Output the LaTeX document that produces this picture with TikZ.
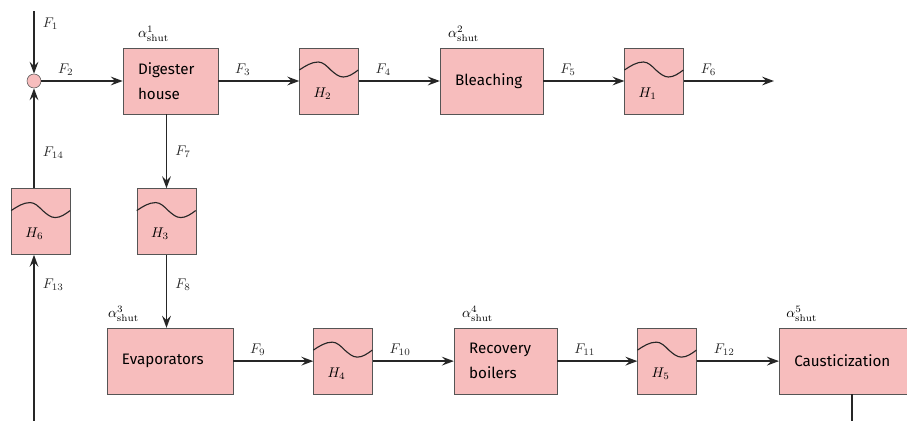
\documentclass[tikz,border=0pt]{standalone}
\usepackage{amsmath,fontspec}
\setsansfont{Fira Sans}
\usetikzlibrary{arrows.meta,positioning}
\definecolor{unitpink}{RGB}{247,189,189}
\definecolor{unitedge}{RGB}{85,85,85}
\tikzset{
  unitblk/.style={draw=unitedge,fill=unitpink,rectangle,minimum height=1.65cm,inner xsep=0.375cm,align=left,font=\sffamily\fontsize{10.8}{17.8}\selectfont},
  bufblk/.style={draw=unitedge,fill=unitpink,rectangle,minimum width=1.475cm,minimum height=1.65cm,inner xsep=0.35cm,inner ysep=0pt,text width=0.775cm,align=left,text height=0.8cm,text depth=0pt},
  mixnode/.style={circle,draw=unitedge,fill=unitpink,minimum size=0.35cm,inner sep=0pt},
  arr/.style={-{Stealth[length=3mm,width=2.2mm,inset=1.1mm]},line width=1.2pt,black!85},
  wave/.style={line width=0.8pt,black!85},
  flbl/.style={inner sep=0pt,anchor=south west,xshift=0.4cm,yshift=0.125cm},
  vlbl/.style={inner sep=0pt,anchor=west,xshift=0.2cm},
  albl/.style={inner sep=0pt}
}
\begin{document}
\begin{tikzpicture}
  \useasboundingbox (0,0) rectangle (22.675,-10.5);
  \clip (0,0) rectangle (22.675,-10.5);

  \node[mixnode] (mix) at (0.85,-2.025) {};
  \node[unitblk, text width=1.625cm] (dig) at (4.2625,-2.025) {Digester\\house};
  \node[bufblk, right=2.025cm of dig] (h2) {$H_2$};
  \node[unitblk, text width=1.825cm, right=2.025cm of h2] (bleach) {Bleaching};
  \node[bufblk, right=2.025cm of bleach] (h1) {$H_1$};
  \coordinate[right=2.25cm of h1] (out);

  \node[bufblk, below=1.85cm of dig, xshift=-0.1cm] (h3) {$H_3$};
  \node[bufblk, left=1.65cm of h3] (h6) {$H_6$};
  \node[unitblk, text width=2.4cm, below=1.825cm of h3, xshift=0.0875cm] (evap) {Evaporators};
  \node[bufblk, right=2.0cm of evap] (h4) {$H_4$};
  \node[unitblk, text width=1.825cm, right=2.025cm of h4] (rb) {Recovery\\boilers};
  \node[bufblk, right=2.0cm of rb] (h5) {$H_5$};
  \node[unitblk, text width=2.9cm, right=2.05cm of h5] (caust) {Causticization};

  \coordinate (feed) at (0.85,-0.275);
  \coordinate (lowc) at (0.85,-11.2);

  \node[albl, above right=0.15cm and 0.375cm of dig.north west] (a1) {$\alpha^{1}_{\mathrm{shut}}$};
  \node[albl, above right=0.15cm and 0.2cm of bleach.north west] (a2) {$\alpha^{2}_{\mathrm{shut}}$};
  \node[albl, above right=0.15cm and 0.025cm of evap.north west] (a3) {$\alpha^{3}_{\mathrm{shut}}$};
  \node[albl, above right=0.15cm and 0.2cm of rb.north west] (a4) {$\alpha^{4}_{\mathrm{shut}}$};
  \node[albl, above right=0.15cm and 0.175cm of caust.north west] (a5) {$\alpha^{5}_{\mathrm{shut}}$};

  \foreach \h in {h1,h2,h3,h4,h5,h6}
    \draw[wave] ([yshift=0.275cm]\h.west) sin ++(0.475,0.2) cos ++(0.3125,-0.2) sin ++(0.3125,-0.175) cos ++(0.375,0.175);

  \draw[arr] (feed) -- (mix.north) node[vlbl,pos=0.2] {$F_{1}$};
  \draw[arr] (mix) -- (dig) node[flbl,pos=0] {$F_{2}$};
  \draw[arr] (dig) -- (h2) node[flbl,pos=0] {$F_{3}$};
  \draw[arr] (h2) -- (bleach) node[flbl,pos=0] {$F_{4}$};
  \draw[arr] (bleach) -- (h1) node[flbl,pos=0] {$F_{5}$};
  \draw[arr] (h1) -- (out) node[flbl,pos=0] {$F_{6}$};
  \draw[arr] (h3 |- dig.south) -- (h3.north) node[vlbl,midway] {$F_{7}$};
  \draw[arr] (h3.south) -- (h3 |- evap.north) node[vlbl,pos=0.41] {$F_{8}$};
  \draw[arr] (evap) -- (h4) node[flbl,pos=0] {$F_{9}$};
  \draw[arr] (h4) -- (rb) node[flbl,pos=0] {$F_{10}$};
  \draw[arr] (rb) -- (h5) node[flbl,pos=0] {$F_{11}$};
  \draw[arr] (h5) -- (caust) node[flbl,pos=0] {$F_{12}$};
  \draw[arr] (caust.south) -- (caust.south |- lowc) -- (lowc) -- (h6.south -| mix) node[vlbl,pos=0.845] {$F_{13}$};
  \draw[arr] (h6.north -| mix) -- (mix.south) node[vlbl,pos=0.36] {$F_{14}$};
\end{tikzpicture}
\end{document}
